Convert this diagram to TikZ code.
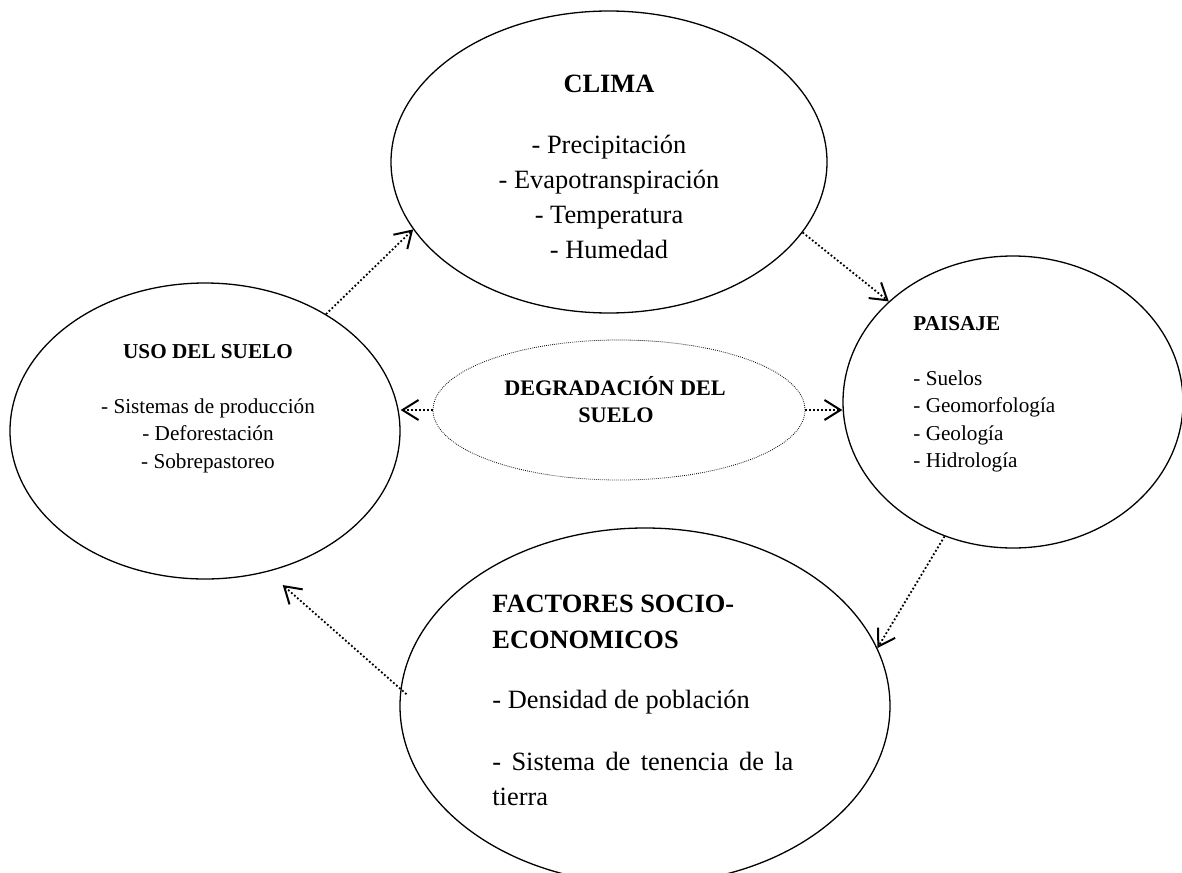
\documentclass[tikz,border=0pt]{standalone}
\usepackage{fontspec}
\setmainfont{Liberation Serif}
\usetikzlibrary{shapes.geometric,arrows.meta,positioning}

\newcommand\bigsz{\fontsize{13.2}{16}\selectfont}
\newcommand\degsz{\fontsize{11.1}{13}\selectfont}
\newcommand\smallsz{\fontsize{10.6}{13}\selectfont}

\tikzset{
  blob/.style={ellipse, draw, line width=0.65pt, inner sep=0pt},
  link/.style={line width=0.9pt, dash pattern=on 0.9pt off 1.1pt,
    -{Straight Barb[length=8pt,width=10pt,line width=1pt]}},
  ttl/.style={anchor=base, inner sep=0pt, font=\bfseries},
  item/.style={anchor=base, inner sep=0pt}
}

\begin{document}
\begin{tikzpicture}[x=0.5pt,y=-0.5pt]
    \useasboundingbox (0,0) rectangle (1182,872);
    \begin{scope}
        \clip (0,0) rectangle (1182,872);
        % the five ellipses
        \node[blob, minimum width=218pt, minimum height=151pt] (clima) at (609,162) {};
        \node[blob, minimum width=195pt, minimum height=148pt] (uso) at (205,431) {};
        \node[blob, minimum width=170pt, minimum height=146pt] (pai) at (1013,402) {};
        \node[blob, minimum width=245pt, minimum height=178pt] (fac) at (645,706) {};
        \node[blob, minimum width=186pt, minimum height=70pt, line width=0.4pt,
              dash pattern=on 0.4pt off 0.6pt] (deg) at (619,410) {};
    \end{scope}

    % CLIMA
    \node[ttl, font=\bigsz\bfseries] (climat) at (609,93) {CLIMA};
    \foreach \t [count=\i from 0] in {Precipitación, Evapotranspiración, Temperatura, Humedad}
        \node[item, font=\bigsz] (clima\i) at (609,{153+35*\i}) {- \t};

    % USO DEL SUELO
    \node[ttl, font=\smallsz\bfseries] (usot) at (208,358) {USO DEL SUELO};
    \foreach \t [count=\i from 0] in {Sistemas de producción, Deforestación, Sobrepastoreo}
        \node[item, font=\smallsz] (uso\i) at (208,{413+27.5*\i}) {- \t};

    % PAISAJE
    \node[ttl, anchor=base west, font=\smallsz\bfseries] (pait) at (913,330) {PAISAJE};
    \foreach \t [count=\i from 0] in {Suelos, Geomorfología, Geología, Hidrología}
        \node[item, anchor=base west, font=\smallsz] (pai\i) at (913,{385+27.5*\i}) {- \t};

    % DEGRADACION
    \node[ttl, font=\degsz\bfseries] (degt) at (615,395) {DEGRADACIÓN DEL};
    \node[ttl, font=\degsz\bfseries] (degs) at (616,422) {SUELO};

    % FACTORES
    \node[ttl, anchor=base west, font=\bigsz\bfseries] (fact) at (492,612) {FACTORES SOCIO-};
    \node[ttl, anchor=base west, font=\bigsz\bfseries] (face) at (492,648) {ECONOMICOS};
    \node[item, anchor=base west, font=\bigsz] (fac1) at (492,708) {- Densidad de población};
    \node[item, anchor=base west, font=\bigsz] (fac2) at (492,770) {\makebox[150.5pt][s]{- Sistema de tenencia de la}};
    \node[item, anchor=base west, font=\bigsz] (fac3) at (492,805) {tierra};

    % arrows
    \draw[link] (uso.44) -- (clima.199);
    \draw[link] (clima.340) -- (pai.141);
    \draw[link] (pai.243) -- (fac.14);
    \draw[link, shorten <=-4pt, shorten >=10pt] (fac.176) -- (uso.294);
    \draw[link] (deg.west) -- (deg.west -| uso.east);
    \draw[link] (deg.east) -- (deg.east -| pai.west);
\end{tikzpicture}
\end{document}
